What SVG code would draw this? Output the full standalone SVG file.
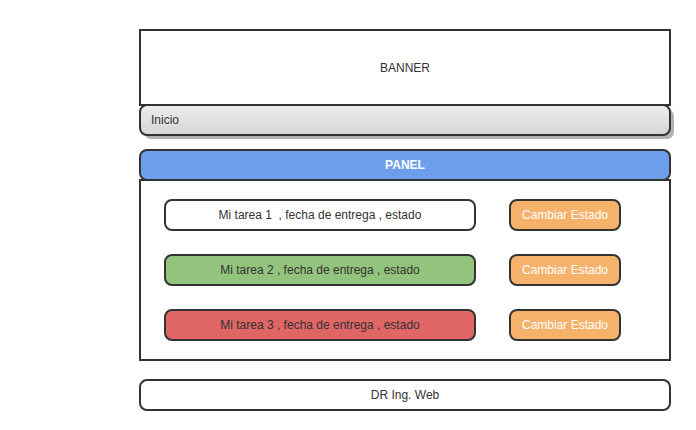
<svg xmlns="http://www.w3.org/2000/svg" width="696" height="430" viewBox="0 0 696 430">
<defs>
<linearGradient id="g" x1="0" y1="0" x2="0" y2="1"><stop offset="0" stop-color="#eeeeee"/><stop offset="1" stop-color="#d5d5d5"/></linearGradient>
</defs>
<style>
.s{stroke:#333333;stroke-width:2}
.t{font-family:"Liberation Sans",Arial,sans-serif;font-size:12px;fill:#333333;text-anchor:middle}
.b{font-family:"Liberation Sans",Arial,sans-serif;font-size:12px;fill:#ffffff;font-weight:bold;text-anchor:middle}
.w{font-family:"Liberation Sans",Arial,sans-serif;font-size:12px;fill:#ffffff;text-anchor:middle}
</style>
<rect width="696" height="430" fill="#ffffff"/>
<g id="banner"><rect class="s" x="140" y="30" width="530" height="75" fill="#ffffff"/><text class="t" x="405" y="72">BANNER</text></g>
<g id="inicio"><rect x="144" y="109" width="530" height="30" rx="7" fill="#b3b3b3"/><rect class="s" x="140" y="105" width="530" height="30" rx="7" fill="url(#g)"/><text class="t" x="151" y="124" style="text-anchor:start">Inicio</text></g>
<g id="panel-header"><rect class="s" x="140" y="150" width="530" height="30" rx="7" fill="#6d9eeb"/><text class="b" x="405" y="169">PANEL</text></g>
<g id="panel-body"><rect class="s" x="140" y="180" width="530" height="180" fill="#ffffff"/></g>
<g id="task1"><rect class="s" x="165" y="200" width="310" height="30" rx="7" fill="#ffffff"/><text class="t" x="320" y="219" xml:space="preserve">Mi tarea 1  , fecha de entrega , estado</text></g>
<g id="task2"><rect class="s" x="165" y="255" width="310" height="30" rx="7" fill="#93c47d"/><text class="t" x="320" y="274">Mi tarea 2 , fecha de entrega , estado</text></g>
<g id="task3"><rect class="s" x="165" y="310" width="310" height="30" rx="7" fill="#e06666"/><text class="t" x="320" y="329">Mi tarea 3 , fecha de entrega , estado</text></g>
<g id="btn1"><rect class="s" x="510" y="200" width="110" height="30" rx="7" fill="#f6b26b"/><text class="w" x="565" y="219">Cambiar Estado</text></g>
<g id="btn2"><rect class="s" x="510" y="255" width="110" height="30" rx="7" fill="#f6b26b"/><text class="w" x="565" y="274">Cambiar Estado</text></g>
<g id="btn3"><rect class="s" x="510" y="310" width="110" height="30" rx="7" fill="#f6b26b"/><text class="w" x="565" y="329">Cambiar Estado</text></g>
<g id="footer"><rect class="s" x="140" y="380" width="530" height="30" rx="7" fill="#ffffff"/><text class="t" x="405" y="399">DR Ing. Web</text></g>
<g id="connectors"/>
</svg>
